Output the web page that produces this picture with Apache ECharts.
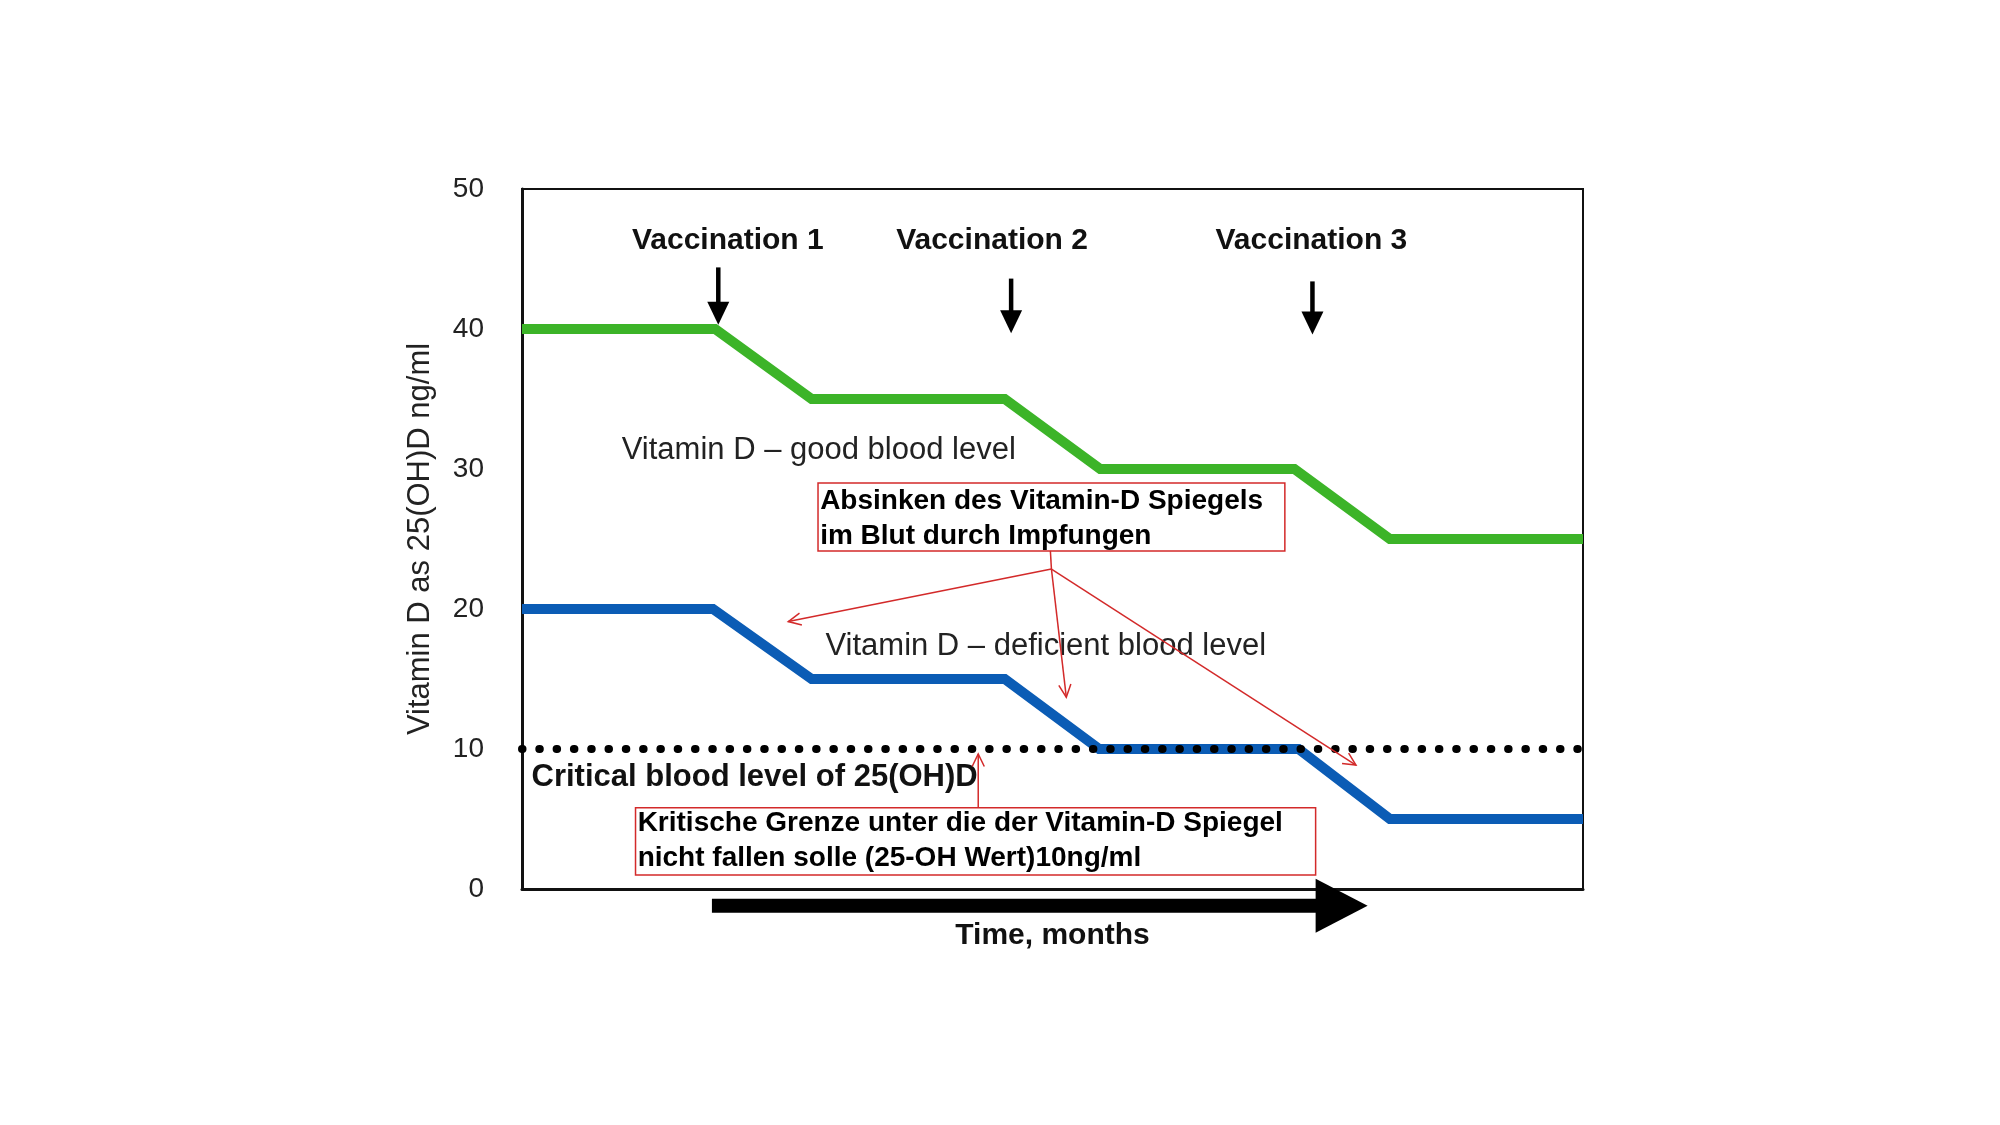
<!DOCTYPE html>
<html>
<head>
<meta charset="utf-8">
<script src="https://cdn.jsdelivr.net/npm/echarts@6/dist/echarts.min.js"></script>
<style>
html, body { margin: 0; background: #fff; }
#chart { width: 2000px; height: 1125px; }
</style>
</head>
<body>
<div id="chart"></div>
<script>
// levels over time (x in arbitrary time units 0..100)
const goodX = [0, 18.2, 27.3, 45.5, 54.5, 72.8, 81.8, 100];
const goodY = [40, 40, 35, 35, 30, 30, 25, 25];
const lowX = [0, 18, 27.3, 45.5, 54.4, 73.2, 81.8, 100];
const lowY = [20, 20, 15, 15, 10, 10, 5, 5];
const criticalX = [0, 100];
const criticalY = [10, 10];
const yTicks = [0, 10, 20, 30, 40, 50];

// vaccination markers
const vaccLabels = ['Vaccination 1', 'Vaccination 2', 'Vaccination 3'];
const vaccLabelX = [19.4, 44.3, 74.4];
const vaccLabelY = [46.3, 46.3, 46.3];
const vaccArrowX = [18.5, 46.1, 74.5];
const vaccArrowTop = [44.4, 43.6, 43.4];
const vaccArrowTip = [40.3, 39.7, 39.6];

// plain text labels
const plainLabels = ['Vitamin D \u2013 good blood level', 'Vitamin D \u2013 deficient blood level'];
const plainX = [9.4, 28.6];
const plainY = [31.3, 17.3];
const boldLabels = ['Critical blood level of 25(OH)D'];
const boldX = [0.9];
const boldY = [8.0];

// red annotation boxes [x1, y1, x2, y2]
const boxCorners = [[27.9, 29.0, 71.9, 24.15], [10.7, 5.8, 74.8, 1.0]];
const boxLines = ['Absinken des Vitamin-D Spiegels', 'im Blut durch Impfungen',
  'Kritische Grenze unter die der Vitamin-D Spiegel', 'nicht fallen solle (25-OH Wert)10ng/ml'];
const boxLineX = [28.1, 28.1, 10.9, 10.9];
const boxLineY = [27.7, 25.2, 4.7, 2.2];

// red arrows [x1, y1, x2, y2, hasHead]
const redArrows = [
  [49.8, 24.15, 49.9, 22.85, 0],
  [49.9, 22.85, 25.1, 19.1, 1],
  [49.9, 22.85, 51.3, 13.7, 1],
  [49.9, 22.85, 78.6, 8.85, 1],
  [43.0, 5.8, 43.0, 9.65, 1]
];

// time arrow below the axis [start, headBase, tip, y]
const timeArrow = [[17.9, 74.8, 79.7, -1.2]];

const FONT = '"Liberation Sans", Arial, sans-serif';

function textSeries(xs, ys, texts, font, align, color) {
  return {
    type: 'custom',
    coordinateSystem: 'cartesian2d',
    z: 6,
    silent: true,
    data: xs.map((x, i) => [x, ys[i]]),
    renderItem: (params, api) => {
      const p = api.coord([api.value(0), api.value(1)]);
      return {
        type: 'text',
        style: {
          text: texts[params.dataIndex], x: p[0], y: p[1], font: font,
          fill: color, align: align, verticalAlign: 'middle',
          textAlign: align, textVerticalAlign: 'middle'
        }
      };
    }
  };
}

const chart = echarts.init(document.getElementById('chart'));

chart.setOption({
  animation: false,
  backgroundColor: '#fff',
  grid: {
    left: 522, right: 417, top: 189, bottom: 236,
    show: true, borderColor: '#111', borderWidth: 2, backgroundColor: 'transparent'
  },
  xAxis: {
    type: 'value', min: 0, max: 100,
    splitLine: { show: false },
    axisTick: { show: false },
    axisLabel: { show: false },
    axisLine: { show: true, lineStyle: { color: '#111', width: 3 } },
    name: 'Time, months', nameLocation: 'middle', nameGap: 32,
    nameTextStyle: { fontFamily: FONT, fontWeight: 'bold', fontSize: 30, color: '#111' }
  },
  yAxis: {
    type: 'value', min: 0, max: 50, interval: 10,
    splitLine: { show: false },
    axisTick: { show: false },
    axisLine: { show: true, lineStyle: { color: '#111', width: 3 } },
    axisLabel: { fontFamily: FONT, fontSize: 28, color: '#222', margin: 38,
      formatter: v => yTicks.includes(v) ? String(v) : '' },
    name: 'Vitamin D as 25(OH)D ng/ml', nameLocation: 'middle', nameGap: 86,
    nameRotate: 90,
    nameTextStyle: { fontFamily: FONT, fontSize: 31, color: '#222' }
  },
  series: [
    {
      name: 'good', type: 'line', symbol: 'none', z: 3,
      data: goodX.map((x, i) => [x, goodY[i]]),
      lineStyle: { color: '#3cb428', width: 10, join: 'miter' }
    },
    {
      name: 'deficient', type: 'line', symbol: 'none', z: 3,
      data: lowX.map((x, i) => [x, lowY[i]]),
      lineStyle: { color: '#0b5cb5', width: 10, join: 'miter' }
    },
    {
      name: 'critical', type: 'line', symbol: 'none', z: 4,
      data: criticalX.map((x, i) => [x, criticalY[i]]),
      lineStyle: { color: '#000', width: 8, type: [0.5, 16.8], cap: 'round' }
    },
    {
      // vaccination arrows
      type: 'custom', coordinateSystem: 'cartesian2d', z: 6, silent: true,
      data: vaccArrowX.map((x, i) => [x, vaccArrowTop[i], vaccArrowTip[i]]),
      encode: { x: 0, y: [1, 2] },
      renderItem: (params, api) => {
        const top = api.coord([api.value(0), api.value(1)]);
        const tip = api.coord([api.value(0), api.value(2)]);
        const head = 23, half = 11;
        return {
          type: 'group',
          children: [
            { type: 'line', shape: { x1: top[0], y1: top[1], x2: tip[0], y2: tip[1] - head + 2 },
              style: { stroke: '#000', lineWidth: 4.5 } },
            { type: 'polygon', shape: { points: [[tip[0] - half, tip[1] - head], [tip[0] + half, tip[1] - head], tip] },
              style: { fill: '#000' } }
          ]
        };
      }
    },
    {
      // time arrow
      type: 'custom', coordinateSystem: 'cartesian2d', z: 6, silent: true,
      data: timeArrow,
      encode: { x: [0, 1, 2], y: 3 },
      renderItem: (params, api) => {
        const a = api.coord([api.value(0), api.value(3)]);
        const b = api.coord([api.value(1), api.value(3)]);
        const t = api.coord([api.value(2), api.value(3)]);
        return {
          type: 'group',
          children: [
            { type: 'rect', shape: { x: a[0], y: a[1] - 7, width: b[0] - a[0] + 2, height: 14 },
              style: { fill: '#000' } },
            { type: 'polygon', shape: { points: [[b[0], b[1] - 27], [b[0], b[1] + 27], t] },
              style: { fill: '#000' } }
          ]
        };
      }
    },
    {
      // red boxes
      type: 'custom', coordinateSystem: 'cartesian2d', z: 5, silent: true,
      data: boxCorners,
      encode: { x: [0, 2], y: [1, 3] },
      renderItem: (params, api) => {
        const p1 = api.coord([api.value(0), api.value(1)]);
        const p2 = api.coord([api.value(2), api.value(3)]);
        return {
          type: 'rect',
          shape: { x: p1[0], y: p1[1], width: p2[0] - p1[0], height: p2[1] - p1[1] },
          style: { fill: '#fff', stroke: '#d32a2a', lineWidth: 1.5 }
        };
      }
    },
    {
      // red arrows
      type: 'custom', coordinateSystem: 'cartesian2d', z: 7, silent: true,
      data: redArrows,
      encode: { x: [0, 2], y: [1, 3] },
      renderItem: (params, api) => {
        const p1 = api.coord([api.value(0), api.value(1)]);
        const p2 = api.coord([api.value(2), api.value(3)]);
        const children = [
          { type: 'line', shape: { x1: p1[0], y1: p1[1], x2: p2[0], y2: p2[1] },
            style: { stroke: '#d32a2a', lineWidth: 1.5 } }
        ];
        if (api.value(4)) {
          const ang = Math.atan2(p2[1] - p1[1], p2[0] - p1[0]);
          const L = 14, a = Math.PI / 7;
          children.push({
            type: 'polyline',
            shape: { points: [
              [p2[0] - L * Math.cos(ang - a), p2[1] - L * Math.sin(ang - a)],
              p2,
              [p2[0] - L * Math.cos(ang + a), p2[1] - L * Math.sin(ang + a)]
            ] },
            style: { stroke: '#d32a2a', lineWidth: 1.5, fill: null }
          });
        }
        return { type: 'group', children: children };
      }
    },
    textSeries(vaccLabelX, vaccLabelY, vaccLabels, 'bold 30px ' + FONT, 'center', '#111'),
    textSeries(plainX, plainY, plainLabels, '31px ' + FONT, 'left', '#222'),
    textSeries(boldX, boldY, boldLabels, 'bold 31px ' + FONT, 'left', '#111'),
    textSeries(boxLineX, boxLineY, boxLines, 'bold 28px ' + FONT, 'left', '#000')
  ]
});
</script>
</body>
</html>
